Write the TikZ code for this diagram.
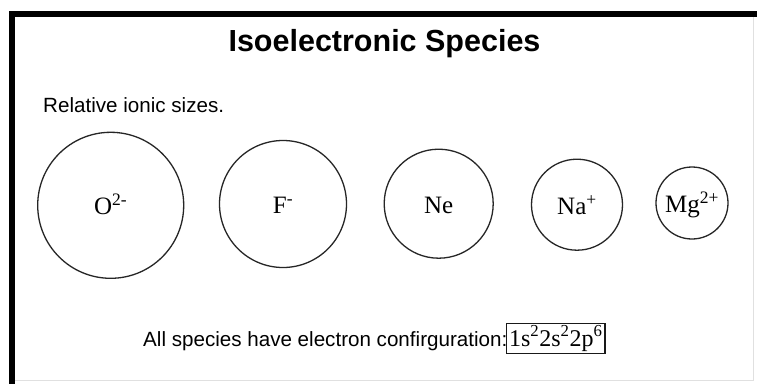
\documentclass[tikz,border=0pt]{standalone}
\usepackage{fontspec}
\setmainfont{Liberation Serif}
\newfontfamily\arialfont{Liberation Sans}
\begin{document}
\begin{tikzpicture}[x=1pt,y=-1pt,
  ion/.style={circle,draw=black!85,line width=1.3pt,inner sep=0pt,
    text height=19pt,text depth=0pt,
    font=\fontsize{25}{29}\selectfont},
  frameline/.style={line width=6pt,line cap=rect},
  faintline/.style={line width=1pt,draw=black!12},
  sanstext/.style={font=\arialfont\fontsize{20.6}{24}\selectfont,inner sep=0pt},
  configbox/.style={draw=black!90,line width=1.2pt,inner xsep=2.5pt,inner ysep=2pt,
    font=\fontsize{24}{28}\selectfont}]
\useasboundingbox (0,0) rectangle (757,383);
\fill[white] (0,0) rectangle (757,383);
% frame
\coordinate (fbl) at (12,383);
\coordinate (ftl) at (12,14);
\coordinate (ftr) at (757,14);
\coordinate (frt) at (753,17);
\coordinate (frb) at (753,380);
\coordinate (fbb) at (15,380);
\draw[faintline] (frt) -- (frb) -- (fbb);
\draw[frameline] (fbl) -- (ftl) -- (ftr);
% title and texts
\node[font=\arialfont\bfseries\fontsize{30.5}{35}\selectfont,inner sep=0pt]
  (title) at (384.5,44) {Isoelectronic Species};
\node[sanstext,anchor=base west] (rel) at (43,112.5) {Relative ionic sizes.};
% ions
\node[ion,minimum size=146] (O) at (110.7,205.3) {O\textsuperscript{2-}};
\node[ion,minimum size=127] (F) at (283,204) {F\textsuperscript{-}};
\node[ion,minimum size=109] (Ne) at (438.7,203.7) {Ne};
\node[ion,minimum size=91] (Na) at (577,204.7) {Na\textsuperscript{+}};
\node[ion,minimum size=72] (Mg) at (692,203) {Mg\textsuperscript{2+}};
% configuration
\node[sanstext,anchor=base west] (all) at (143,346) {All species have electron confirguration:};
\node[configbox,anchor=base west] (cfg) at (506,346)
  {1s\textsuperscript{2}2s\textsuperscript{2}2p\textsuperscript{6}};
\end{tikzpicture}
\end{document}
